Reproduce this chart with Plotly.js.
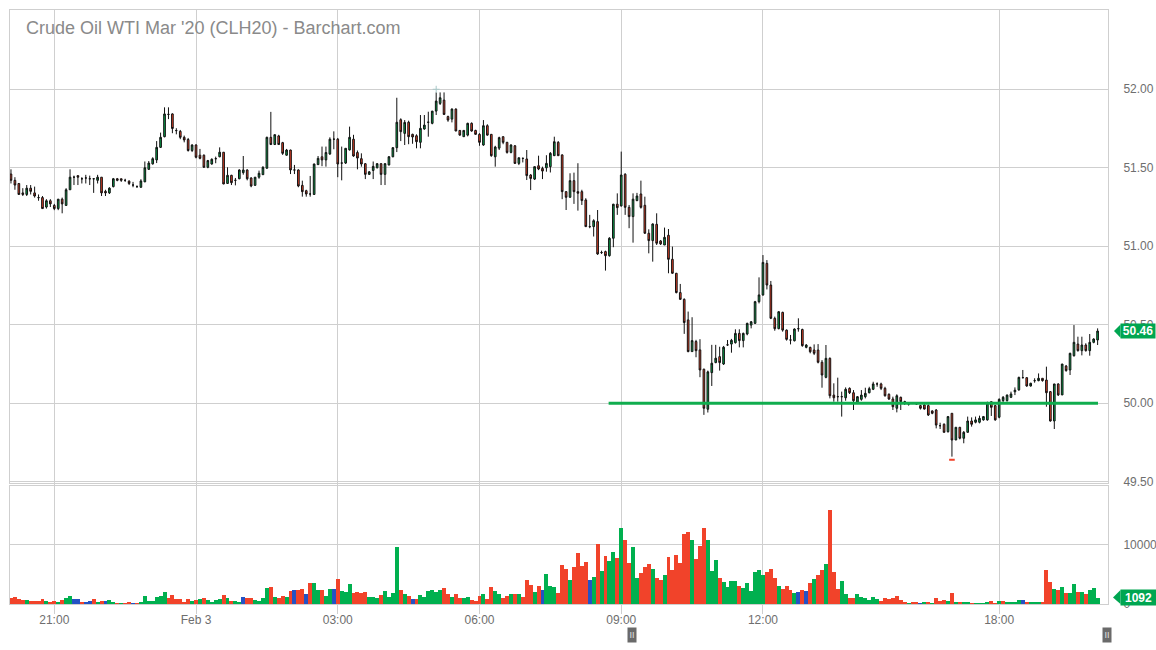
<!DOCTYPE html>
<html><head><meta charset="utf-8">
<script src="https://cdn.plot.ly/plotly-3.0.1.min.js"></script>
<style>html,body{margin:0;padding:0;background:#fff;overflow:hidden}#chart{width:1156px;height:650px}</style>
</head><body><div id="chart"></div>
<script>
// ---- data (5-minute bars) ----
const open = [
51.46,51.42,51.40,51.34,51.33,51.37,51.34,51.31,51.31,51.25,
51.29,51.26,51.24,51.30,51.26,51.36,51.44,51.45,51.43,51.435,
51.43,51.43,51.42,51.44,51.35,51.34,51.38,51.43,51.43,51.42,
51.415,51.39,51.38,51.376,51.41,51.49,51.525,51.55,51.63,51.698,
51.84,51.843,51.737,51.732,51.694,51.68,51.61,51.645,51.58,51.58,
51.503,51.524,51.558,51.57,51.599,51.40,51.452,51.42,51.43,51.469,
51.486,51.435,51.388,51.44,51.456,51.497,51.694,51.648,51.703,51.66,
51.58,51.613,51.486,51.486,51.388,51.354,51.333,51.33,51.52,51.57,
51.55,51.588,51.682,51.682,51.53,51.53,51.614,51.682,51.597,51.558,
51.526,51.458,51.483,51.50,51.526,51.458,51.518,51.57,51.628,51.806,
51.719,51.79,51.713,51.704,51.662,51.747,51.79,51.783,51.861,51.91,
51.931,51.826,51.81,51.874,51.738,51.698,51.708,51.783,51.738,51.713,
51.645,51.768,51.713,51.57,51.625,51.698,51.662,51.598,51.64,51.528,
51.56,51.556,51.454,51.428,51.513,51.496,51.50,51.507,51.577,51.662,
51.582,51.348,51.312,51.418,51.348,51.348,51.295,51.125,51.125,51.157,
50.96,50.966,50.94,51.051,51.268,51.257,51.459,51.248,51.189,51.291,
51.333,51.261,51.083,51.036,51.14,51.034,51.008,51.07,50.917,50.828,
50.705,50.662,50.531,50.329,50.393,50.34,50.217,49.962,50.195,50.259,
50.297,50.25,50.372,50.377,50.386,50.445,50.399,50.441,50.498,50.509,
50.647,50.69,50.891,50.753,50.541,50.475,50.579,50.466,50.403,50.398,
50.475,50.47,50.356,50.356,50.339,50.339,50.261,50.165,50.286,50.052,
50.042,50.042,50.035,50.095,50.067,50.006,50.025,50.042,50.067,50.089,
50.123,50.123,50.095,50.057,50.027,49.968,50.038,50.01,49.995,50.0,
50.0,49.985,49.989,49.985,49.951,49.957,49.857,49.866,49.819,49.936,
49.766,49.847,49.777,49.815,49.887,49.879,49.879,49.894,49.894,50.01,
49.985,49.911,50.017,50.017,50.038,50.073,50.085,50.163,50.163,50.11,
50.144,50.144,50.159,50.148,50.074,49.887,50.123,50.053,50.237,50.212,
50.303,50.377,50.335,50.371,50.335,50.388,50.403];
const high = [
51.49,51.44,51.40,51.37,51.39,51.39,51.38,51.33,51.32,51.30,
51.30,51.27,51.30,51.31,51.37,51.49,51.45,51.45,51.44,51.455,
51.45,51.43,51.455,51.44,51.36,51.376,51.435,51.435,51.43,51.43,
51.42,51.41,51.388,51.427,51.54,51.543,51.567,51.67,51.724,51.885,
51.885,51.847,51.752,51.741,51.705,51.69,51.65,51.65,51.62,51.585,
51.55,51.56,51.571,51.63,51.60,51.503,51.455,51.435,51.49,51.575,
51.49,51.44,51.44,51.482,51.51,51.698,51.856,51.711,51.71,51.665,
51.62,51.615,51.518,51.49,51.418,51.36,51.448,51.526,51.575,51.635,
51.635,51.694,51.732,51.69,51.635,51.624,51.762,51.71,51.61,51.592,
51.53,51.479,51.54,51.53,51.53,51.53,51.575,51.632,51.946,51.815,
51.804,51.80,51.717,51.713,51.836,51.836,51.857,51.861,51.98,51.98,
51.98,51.832,51.878,51.878,51.74,51.74,51.787,51.789,51.742,51.72,
51.804,51.777,51.715,51.64,51.698,51.70,51.665,51.65,51.645,51.564,
51.564,51.613,51.46,51.507,51.577,51.507,51.58,51.60,51.698,51.67,
51.585,51.35,51.465,51.469,51.529,51.36,51.306,51.20,51.172,51.231,
50.972,50.972,51.058,51.27,51.337,51.603,51.465,51.263,51.337,51.34,
51.418,51.316,51.108,51.146,51.21,51.04,51.119,51.11,50.998,50.83,
50.76,50.668,50.584,50.548,50.404,50.408,50.22,50.208,50.372,50.372,
50.36,50.365,50.403,50.41,50.471,50.471,50.45,50.513,50.524,50.652,
50.802,50.944,50.912,50.779,50.552,50.587,50.583,50.47,50.435,50.477,
50.541,50.475,50.377,50.36,50.375,50.377,50.275,50.371,50.292,50.127,
50.163,50.074,50.101,50.101,50.084,50.046,50.084,50.099,50.105,50.137,
50.133,50.131,50.105,50.063,50.042,50.057,50.042,50.016,50.0,50.006,
50.006,49.99,49.995,49.993,49.955,49.963,49.876,49.872,49.919,49.936,
49.847,49.847,49.823,49.915,49.91,49.915,49.921,49.919,50.01,50.01,
49.989,50.031,50.046,50.056,50.074,50.101,50.169,50.212,50.165,50.131,
50.159,50.19,50.159,50.233,50.078,50.123,50.127,50.25,50.244,50.322,
50.498,50.424,50.424,50.382,50.441,50.414,50.477];
const low = [
51.40,51.36,51.33,51.32,51.32,51.33,51.31,51.29,51.24,51.24,
51.25,51.23,51.23,51.21,51.26,51.36,51.39,51.39,51.40,51.40,
51.39,51.34,51.40,51.32,51.32,51.333,51.375,51.414,51.41,51.41,
51.39,51.376,51.372,51.372,51.41,51.486,51.52,51.53,51.626,51.694,
51.81,51.72,51.713,51.682,51.662,51.603,51.60,51.56,51.554,51.50,
51.497,51.52,51.529,51.567,51.395,51.397,51.39,51.388,51.427,51.456,
51.42,51.376,51.385,51.43,51.454,51.495,51.645,51.645,51.645,51.582,
51.577,51.46,51.46,51.376,51.316,51.316,51.316,51.328,51.52,51.51,
51.507,51.582,51.618,51.44,51.42,51.524,51.61,51.57,51.49,51.507,
51.428,51.454,51.428,51.496,51.39,51.39,51.515,51.567,51.60,51.67,
51.645,51.65,51.653,51.624,51.624,51.742,51.698,51.777,51.836,51.90,
51.836,51.793,51.789,51.734,51.704,51.696,51.70,51.73,51.71,51.64,
51.64,51.704,51.57,51.507,51.613,51.65,51.59,51.592,51.524,51.517,
51.534,51.422,51.358,51.422,51.485,51.428,51.475,51.47,51.575,51.577,
51.30,51.231,51.31,51.27,51.227,51.263,51.125,51.115,51.062,50.945,
50.951,50.845,50.934,50.994,51.20,51.253,51.20,51.115,51.023,51.287,
51.24,51.079,50.955,50.902,51.008,51.008,51.008,50.828,50.825,50.70,
50.658,50.442,50.325,50.329,50.293,50.166,49.926,49.941,50.11,50.255,
50.208,50.244,50.365,50.322,50.38,50.356,50.356,50.433,50.477,50.505,
50.636,50.685,50.725,50.536,50.462,50.471,50.456,50.399,50.375,50.394,
50.456,50.36,50.35,50.318,50.307,50.254,50.099,50.159,50.031,50.01,
50.01,49.915,50.016,50.059,49.957,49.995,50.016,50.031,50.063,50.084,
50.105,50.084,50.042,50.021,49.957,49.942,49.957,49.989,49.985,49.995,
49.99,49.96,49.96,49.919,49.93,49.84,49.836,49.813,49.813,49.66,
49.766,49.77,49.745,49.813,49.851,49.872,49.872,49.889,49.889,49.919,
49.889,49.904,50.008,50.01,50.033,50.052,50.08,50.159,50.105,50.106,
50.131,50.14,50.138,49.978,49.883,49.836,50.046,50.053,50.201,50.18,
50.297,50.329,50.305,50.329,50.303,50.382,50.371];
const close = [
51.42,51.39,51.33,51.33,51.37,51.35,51.32,51.31,51.24,51.29,
51.27,51.24,51.30,51.27,51.36,51.44,51.44,51.44,51.43,51.435,
51.43,51.43,51.44,51.34,51.34,51.37,51.43,51.42,51.42,51.42,
51.40,51.39,51.38,51.416,51.50,51.53,51.558,51.63,51.694,51.843,
51.84,51.75,51.737,51.694,51.677,51.61,51.645,51.567,51.56,51.503,
51.546,51.554,51.558,51.599,51.397,51.452,51.405,51.42,51.486,51.486,
51.43,51.384,51.44,51.465,51.503,51.694,51.648,51.711,51.648,51.592,
51.613,51.486,51.486,51.384,51.348,51.333,51.333,51.524,51.56,51.55,
51.597,51.682,51.682,51.524,51.53,51.624,51.694,51.575,51.562,51.524,
51.458,51.474,51.509,51.526,51.458,51.526,51.57,51.628,51.79,51.73,
51.789,51.698,51.696,51.666,51.751,51.772,51.79,51.861,51.925,51.946,
51.84,51.804,51.874,51.734,51.708,51.738,51.783,51.734,51.713,51.662,
51.768,51.708,51.577,51.632,51.692,51.662,51.598,51.645,51.528,51.564,
51.56,51.45,51.432,51.507,51.492,51.479,51.528,51.592,51.666,51.577,
51.348,51.312,51.418,51.348,51.338,51.291,51.125,51.125,51.163,50.951,
50.96,50.94,51.051,51.268,51.246,51.454,51.248,51.189,51.30,51.32,
51.248,51.083,51.036,51.142,51.019,51.015,51.057,50.917,50.828,50.705,
50.662,50.514,50.329,50.399,50.335,50.212,49.968,50.20,50.255,50.287,
50.259,50.357,50.372,50.401,50.445,50.399,50.445,50.509,50.519,50.647,
50.69,50.897,50.753,50.541,50.475,50.583,50.466,50.407,50.403,50.473,
50.475,50.367,50.371,50.328,50.318,50.261,50.18,50.286,50.048,50.035,
50.042,50.042,50.089,50.067,50.016,50.042,50.052,50.063,50.093,50.123,
50.123,50.095,50.048,50.027,49.978,50.048,50.01,50.01,49.995,50.0,
49.995,49.968,49.963,49.925,49.936,49.861,49.857,49.815,49.915,49.766,
49.847,49.777,49.815,49.887,49.866,49.894,49.904,49.915,50.0,49.974,
49.894,50.025,50.038,50.052,50.059,50.083,50.165,50.163,50.11,50.127,
50.144,50.159,50.144,50.067,49.887,50.123,50.053,50.25,50.208,50.318,
50.388,50.335,50.371,50.335,50.388,50.409,50.46];
const volume = [
1017,1187,848,678,678,508,508,508,848,508,
339,508,339,678,1017,1356,848,848,339,339,
508,848,339,508,508,678,339,170,170,170,
339,170,170,339,1356,508,508,1187,1356,2034,
1017,1526,848,848,339,848,508,678,848,1017,
678,339,678,848,1526,1017,508,508,339,1187,
1017,1017,678,508,1017,2712,2882,1187,1017,1356,
1187,2204,2373,2373,2543,1695,3560,3560,2373,2373,
1356,2543,2543,4238,2204,2034,3390,1865,2034,1865,
2034,1187,1187,1017,1526,2204,1187,1865,9662,2373,
1695,1356,848,848,1526,1187,2204,2373,2034,2373,
2712,1695,1187,1695,1017,1017,1187,678,508,1356,
1695,848,2882,2204,1695,1017,1356,1695,1695,1695,
1187,4068,3221,2034,3051,2373,5085,3051,2882,1865,
6611,5933,4068,6272,8645,6441,7119,4068,4577,10170,
5594,8136,7289,8814,7797,12882,10848,6950,9662,4407,
5255,6272,6780,5933,4407,4068,4916,7967,5763,8306,
6950,11865,12204,10848,7628,9831,12882,10848,5594,7458,
4407,3729,2882,3899,3899,3051,2712,3560,2204,5480,
5763,4916,5480,5933,4407,3051,2543,3051,2373,1865,
2034,2373,2204,3560,4238,4916,5763,6780,15933,5480,
2543,3899,1695,1074,1074,1695,1187,1017,678,1187,
848,508,1017,848,1017,1356,678,339,170,339,
339,170,339,339,170,1017,508,678,508,1865,
339,339,339,339,170,170,170,120,339,508,
170,508,508,339,339,339,678,678,339,339,
339,339,339,5763,3729,2543,2373,2882,1865,1865,
3390,2034,2034,1695,2373,2712,1092];
// volume bar direction: u = up, d = down, n = unchanged
const volDir = [
'd','d','d','d','u','d','d','d','d','u',
'd','d','u','d','u','u','n','n','d','n',
'n','d','u','d','n','u','u','d','u','d',
'd','n','d','u','u','u','u','u','u','u',
'd','d','d','d','d','d','u','d','u','d',
'u','u','u','u','d','u','d','u','u','n',
'd','d','u','u','u','u','d','u','d','d',
'u','d','n','d','d','n','d','u','u','d',
'u','u','n','d','u','u','u','d','d','d',
'd','u','u','u','d','u','u','u','u','d',
'u','d','n','d','u','u','u','u','u','u',
'd','d','u','d','d','u','u','d','d','d',
'u','d','d','u','u','d','d','u','d','u',
'd','d','d','u','d','n','u','u','u','d',
'd','d','u','d','d','d','d','n','u','d',
'u','d','u','u','d','u','d','d','u','u',
'd','d','d','u','d','d','u','d','d','d',
'd','d','d','u','d','d','d','u','u','u',
'd','u','u','u','u','d','u','u','u','u',
'u','u','d','d','d','u','d','d','d','u',
'n','d','n','d','u','d','d','u','d','d',
'd','u','u','d','d','u','u','u','u','u',
'u','d','d','d','d','d','d','d','u','d',
'd','n','u','d','u','d','d','d','u','d',
'u','d','u','u','d','u','u','u','u','d',
'd','u','d','u','u','u','u','n','d','u',
'u','u','d','d','d','u','d','u','d','u',
'u','d','u','d','u','u','u'];
const tickIdx  = [11, 47, 83, 119, 155, 191, 251];
const tickText = ['21:00', 'Feb 3', '03:00', '06:00', '09:00', '12:00', '18:00'];
const priceTicks = [49.5, 50.0, 50.5, 51.0, 51.5, 52.0];
const volTicks = [0, 10000];
const supportIdx = [151.8, 276.1];
const supportLevel = [50.0, 50.0];
const lowMarkIdx = [239], lowMarkPrice = [49.64];
const highMarkIdx = [108], highMarkPrice = [52.0];
const titleText = "Crude Oil WTI Mar '20 (CLH20) - Barchart.com";

// ---- drawing ----
const idx = close.map((_, i) => i);
const last = close.length - 1;
const GREEN = '#00b04f', RED = '#f1432a', BLUE = '#2452c4', GRID = '#cfcfcf', TXT = '#6e6e6e';
const volColor = volDir.map(d => d === 'u' ? GREEN : d === 'd' ? RED : BLUE);
const xpx = p => (p - 10) / 1098;     // pixel -> paper x (styling only)

const traces = [
  {type: 'bar', x: idx, y: volume, xaxis: 'x', yaxis: 'y2',
   marker: {color: volColor, line: {width: 0}}, hoverinfo: 'skip', showlegend: false},
  {type: 'candlestick', x: idx, open: open, high: high, low: low, close: close,
   xaxis: 'x', yaxis: 'y', whiskerwidth: 0, hoverinfo: 'skip', showlegend: false,
   increasing: {line: {color: '#111', width: 1}, fillcolor: '#06a84c'},
   decreasing: {line: {color: '#111', width: 1}, fillcolor: '#ee4328'}},
  {type: 'scatter', mode: 'lines', x: supportIdx, y: supportLevel, xaxis: 'x', yaxis: 'y',
   line: {color: '#10ad4e', width: 3}, hoverinfo: 'skip', showlegend: false},
  {type: 'scatter', mode: 'markers', x: lowMarkIdx, y: lowMarkPrice, xaxis: 'x', yaxis: 'y',
   marker: {symbol: 'line-ew', size: 4, line: {color: RED, width: 2}}, hoverinfo: 'skip', showlegend: false},
  {type: 'scatter', mode: 'markers', x: highMarkIdx, y: highMarkPrice, xaxis: 'x', yaxis: 'y',
   marker: {symbol: 'cross-thin', size: 5, line: {color: '#a8c8c8', width: 1}}, hoverinfo: 'skip', showlegend: false}
];

const c = close[last], v = volume[last];
const layout = {
  width: 1156, height: 650,
  margin: {l: 10, r: 48, t: 10, b: 46, pad: 0},
  paper_bgcolor: '#fff', plot_bgcolor: '#fff',
  font: {family: '"Liberation Sans", Arial, sans-serif', size: 12, color: TXT},
  showlegend: false, hovermode: false, dragmode: false,
  boxgap: 0.4, bargap: 0,
  title: {text: titleText, xref: 'container', x: 26 / 1156, xanchor: 'left',
          yref: 'container', y: 1 - 28 / 650, yanchor: 'middle',
          font: {size: 18, color: '#8a8a8a'}},
  xaxis: {type: 'linear', range: [-0.25, 278.64], anchor: 'y2', domain: [0, 1],
          tickmode: 'array', tickvals: tickIdx, ticktext: tickText,
          showgrid: true, gridcolor: GRID, gridwidth: 1, zeroline: false,
          showline: true, linecolor: GRID, linewidth: 1, mirror: 'all',
          ticks: 'outside', ticklen: 9, tickcolor: GRID, tickwidth: 1, ticklabelstandoff: -4,
          tickfont: {size: 12, color: TXT}, rangeslider: {visible: false}, fixedrange: true},
  yaxis: {domain: [0.2037, 1], range: [49.492, 52.505], side: 'right', anchor: 'x',
          tickmode: 'array', tickvals: priceTicks, tickformat: '.2f',
          showgrid: true, gridcolor: GRID, zeroline: false,
          showline: true, linecolor: GRID, mirror: true, ticks: '', ticklabelstandoff: 12,
          tickfont: {size: 12, color: TXT}, fixedrange: true},
  yaxis2: {domain: [0, 0.1987], range: [0, 20000], side: 'right', anchor: 'x',
           tickmode: 'array', tickvals: volTicks, tickformat: 'd',
           showgrid: true, gridcolor: GRID, zeroline: false,
           showline: true, linecolor: GRID, mirror: true, ticks: '', ticklabelstandoff: 12,
           tickfont: {size: 12, color: TXT}, fixedrange: true},
  shapes: [
    {type: 'path', xref: 'paper', yref: 'y', layer: 'above',
     path: `M ${xpx(1114)},${c} L ${xpx(1120.5)},${c + 0.042} L ${xpx(1120.5)},${c - 0.042} Z`,
     fillcolor: '#00a651', line: {width: 0}},
    {type: 'path', xref: 'paper', yref: 'y2', layer: 'above',
     path: `M ${xpx(1113)},${v} L ${xpx(1120.5)},${v + 1300} L ${xpx(1120.5)},${Math.max(v - 1300, 0)} Z`,
     fillcolor: '#00a651', line: {width: 0}}
  ],
  annotations: [
    {xref: 'paper', yref: 'y', x: xpx(1120), y: c, xanchor: 'left', yanchor: 'middle',
     text: '<b>' + c.toFixed(2) + '</b>', showarrow: false, bgcolor: '#00a651',
     width: 34, height: 14, borderpad: 0, font: {size: 12, color: '#fff'}},
    {xref: 'paper', yref: 'y2', x: xpx(1120), y: v, xanchor: 'left', yanchor: 'middle',
     text: '<b>' + v + '</b>', showarrow: false, bgcolor: '#00a651',
     width: 35, height: 15, borderpad: 0, font: {size: 12, color: '#fff'}},
    {xref: 'paper', yref: 'paper', x: xpx(632), y: -31 / 594, xanchor: 'center', yanchor: 'middle',
     text: 'II', showarrow: false, bgcolor: '#6a6a6a', width: 8, height: 14, borderpad: 0,
     font: {size: 9, color: '#e0e0e0'}},
    {xref: 'paper', yref: 'paper', x: xpx(1107), y: -31 / 594, xanchor: 'center', yanchor: 'middle',
     text: 'II', showarrow: false, bgcolor: '#6a6a6a', width: 8, height: 14, borderpad: 0,
     font: {size: 9, color: '#e0e0e0'}}
  ]
};

Plotly.newPlot('chart', traces, layout, {displayModeBar: false, staticPlot: true});
</script>
</body></html>
